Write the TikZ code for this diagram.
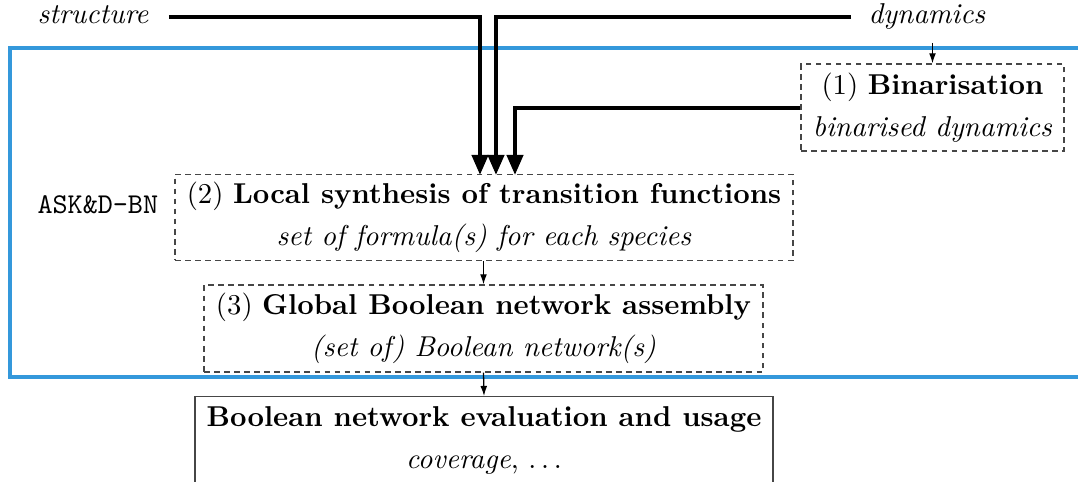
\documentclass[tikz,border=0pt]{standalone}
\usetikzlibrary{arrows.meta,positioning,calc}
\definecolor{frameblue}{RGB}{52,152,219}
\definecolor{boxgray}{RGB}{70,70,70}
\begin{document}
\begin{tikzpicture}[x=0.3484pt,y=-0.3484pt,
  stepbox/.style={draw=boxgray,line width=0.45pt,dash pattern=on 2pt off 1.5pt,align=center,inner sep=0pt},
  finalbox/.style={draw=boxgray,line width=0.45pt,align=center,inner sep=0pt},
  bigarrow/.style={line width=1.4pt,-{Triangle[length=7pt,width=5.6pt]}},
  smallarrow/.style={line width=0.45pt,-{Latex[length=3.5pt,width=2.4pt]}},
  lbl/.style={inner sep=0pt}]
\useasboundingbox[clip] (0,0) rectangle (1078,482);
% blue frame
\draw[frameblue,line width=1.1pt] (1100,48) -- (10,48) -- (10,377) -- (1100,377);
% labels
\node[lbl,anchor=west] (s) at (37,17) {\itshape structure\strut};
\node[lbl,anchor=west] (d) at (868,17) {\itshape dynamics\strut};
\node[lbl,anchor=west] (ask) at (37,205) {\ttfamily ASK\&D-BN};
% boxes
\node[stepbox,minimum width=263*0.3484pt,minimum height=87*0.3484pt] (b1) at (932.5,107.5)
  {(1) \textbf{Binarisation}\\[2.6pt] \textit{binarised dynamics}};
\node[stepbox,minimum width=618*0.3484pt,minimum height=86*0.3484pt] (b2) at (484,217.5)
  {(2) \textbf{Local synthesis of transition functions}\\[2.6pt] \textit{set of formula(s) for each species}};
\node[stepbox,minimum width=559*0.3484pt,minimum height=87*0.3484pt] (b3) at (483.5,328.5)
  {(3) \textbf{Global Boolean network assembly}\\[2.6pt] \textit{(set of) Boolean network(s)}};
\node[finalbox,minimum width=578*0.3484pt,minimum height=87*0.3484pt,anchor=north] (b4) at (484,396)
  {\textbf{Boolean network evaluation and usage}\\[2.6pt] \textit{coverage}, $\ldots$};
% thick arrows
\coordinate (c1) at (480,175);
\coordinate (c2) at (496,175);
\coordinate (c3) at (515,175);
\draw[bigarrow] ([xshift=20*0.3484pt]s.east) -| (c1);
\draw[bigarrow] ([xshift=-17*0.3484pt]d.west) -| (c2);
\draw[bigarrow] (b1.west |- 0,108) -| (c3);
% small arrows
\draw[smallarrow] (d.south -| b1.north) ++(0,8) coordinate (dtop) -- (b1.north);
\draw[smallarrow] (b2.south -| b3.north) -- (b3.north);
\draw[smallarrow] (b3.south) -- (b4.north);
\end{tikzpicture}
\end{document}
